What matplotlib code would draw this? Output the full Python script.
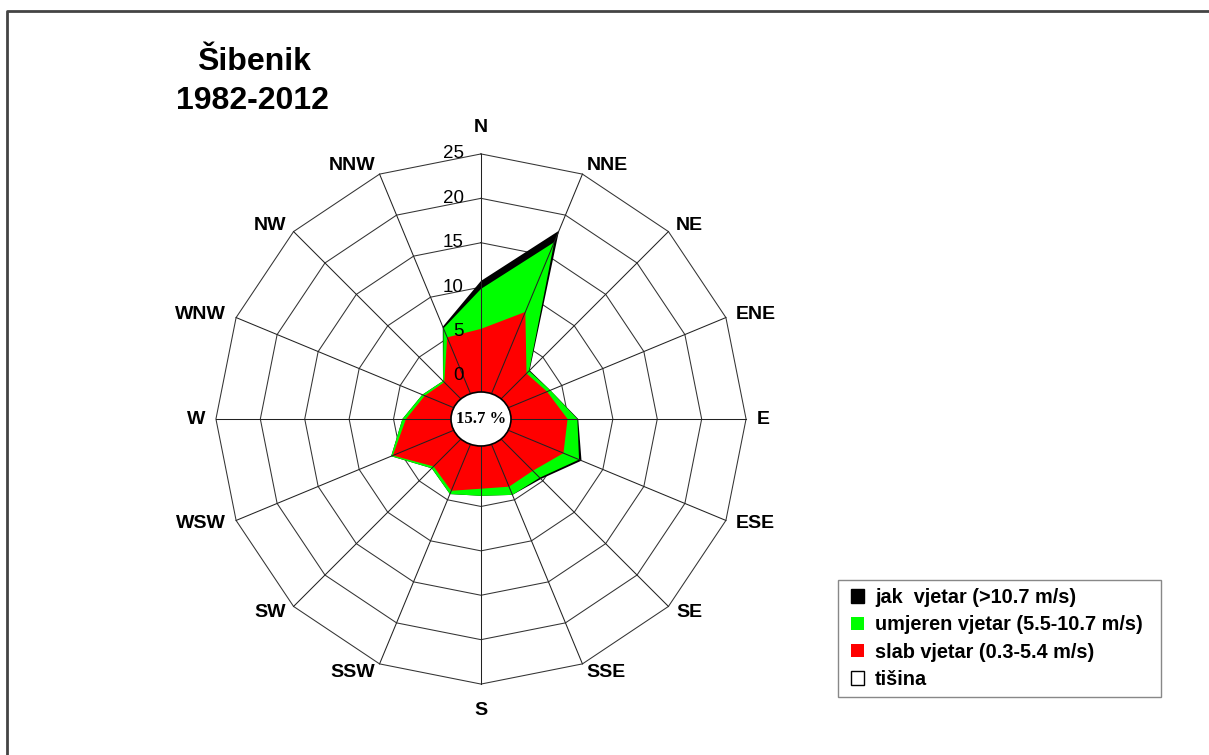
import numpy as np
import matplotlib
matplotlib.use('Agg')
import matplotlib.pyplot as plt
from matplotlib.patches import Ellipse, Patch, Rectangle
from matplotlib.lines import Line2D

plt.rcParams['font.family'] = ['Liberation Sans', 'DejaVu Sans']

# wind frequencies (%) per direction
dirs = ['N', 'NNE', 'NE', 'ENE', 'E', 'ESE', 'SE', 'SSE',
        'S', 'SSW', 'SW', 'WSW', 'W', 'WNW', 'NW', 'NNW']
slab = [5.3, 8.2, 2.4, 3.2, 4.9, 5.2, 3.4, 3.4, 3.0, 3.9, 2.7, 5.9, 3.6, 2.0, 1.0, 5.1]
umjeren = [4.5, 8.5, 0.4, 0.4, 1.1, 1.9, 1.1, 1.0, 0.8, 0.4, 0.3, 0.2, 0.4, 0.3, 0.2, 1.1]
jak = [0.9, 1.4, 0.1, 0.0, 0.1, 0.3, 0.2, 0.0, 0.0, 0.0, 0.0, 0.0, 0.0, 0.0, 0.0, 0.2]
tisina = 15.7
rings = [0, 5, 10, 15, 20, 25]
labels = ['jak  vjetar (>10.7 m/s)', 'umjeren vjetar (5.5-10.7 m/s)',
          'slab vjetar (0.3-5.4 m/s)', 'tišina']

W, H = 1209, 755
fig = plt.figure(figsize=(W / 100, H / 100), dpi=100)
ax = fig.add_axes([0, 0, 1, 1])
px = 8.88          # pixels per percent
cx, cy = 481, 419  # centre of the rose in pixels
ax.set_xlim(-cx / px, (W - cx) / px)
ax.set_ylim(-(H - cy) / px, cy / px)
ax.axis('off')

r0 = 4.85  # inner hole
ang = np.deg2rad(np.arange(16) * 22.5)


def poly(v):
    R = r0 + np.asarray(v, dtype=float)
    x, y = R * np.sin(ang), R * np.cos(ang)
    return np.append(x, x[0]), np.append(y, y[0])


# rings
for v in rings:
    x, y = poly(np.full(16, v))
    ax.plot(x, y, color='#333333', lw=0.75, zorder=1)

# stacked areas
red = np.array(slab)
green = red + np.array(umjeren)
black = green + np.array(jak)
for vals, c, z in [(black, 'black', 2), (green, '#00ff00', 3), (red, '#ff0000', 4)]:
    x, y = poly(vals)
    ax.fill(x, y, color=c, lw=0, zorder=z)

# spokes
Rmax = r0 + rings[-1]
for a in ang:
    ax.plot([0, Rmax * np.sin(a)], [0, Rmax * np.cos(a)], color='#222222', lw=0.75, zorder=5)

ax.add_patch(Ellipse((0, 0), 60 / px, 54 / px, fc='white', ec='black', lw=1.2, zorder=6))
ax.text(0, 0, f'{tisina} %', family='Liberation Serif', weight='bold', fontsize=12,
        ha='center', va='center', zorder=7)

for v in rings:
    ax.text(-17 / px, r0 + v, str(v), ha='right', va='center', fontsize=13.5, zorder=7)

# direction labels just outside the outer ring
for d, a in zip(dirs, ang):
    s, c = np.sin(a), np.cos(a)
    vx, vy = Rmax * s, Rmax * c
    if abs(s) < 0.1:
        ax.text(vx, vy + 26 / px * c, d, ha='center', va='center', fontsize=14, weight='bold')
    else:
        ax.text(vx + 11 / px * s, vy + 9 / px * c, d, ha='left' if s > 0 else 'right',
                va='center', fontsize=14, weight='bold')

fig.text(254 / W, 1 - 62 / H, 'Šibenik', ha='center', va='center', fontsize=23, weight='bold')
fig.text(252 / W, 1 - 101 / H, '1982-2012', ha='center', va='center', fontsize=23, weight='bold')

fig.add_artist(Line2D([7 / W, 7 / W, 1], [0, 1 - 11 / H, 1 - 11 / H], color='#444444',
                      lw=2, transform=fig.transFigure))

# legend box
ax.add_patch(Rectangle((838 / W, 1 - 697 / H), 323 / W, 117 / H, fc='white', ec='#888888',
                       lw=1, transform=fig.transFigure, zorder=8))
handles = [Patch(fc='black', ec='black'), Patch(fc='#00ff00', ec='none'),
           Patch(fc='#ff0000', ec='none'), Patch(fc='white', ec='black')]
leg = ax.legend(handles, labels, loc='upper left', bbox_to_anchor=(851 / W, 1 - 588 / H),
                bbox_transform=fig.transFigure, frameon=False,
                prop={'weight': 'bold', 'size': 14.3}, handlelength=0.67, handleheight=0.67,
                handletextpad=0.55, labelspacing=0.42, borderpad=0, borderaxespad=0)
leg.set_zorder(9)

fig.savefig('out.png', dpi=100)
